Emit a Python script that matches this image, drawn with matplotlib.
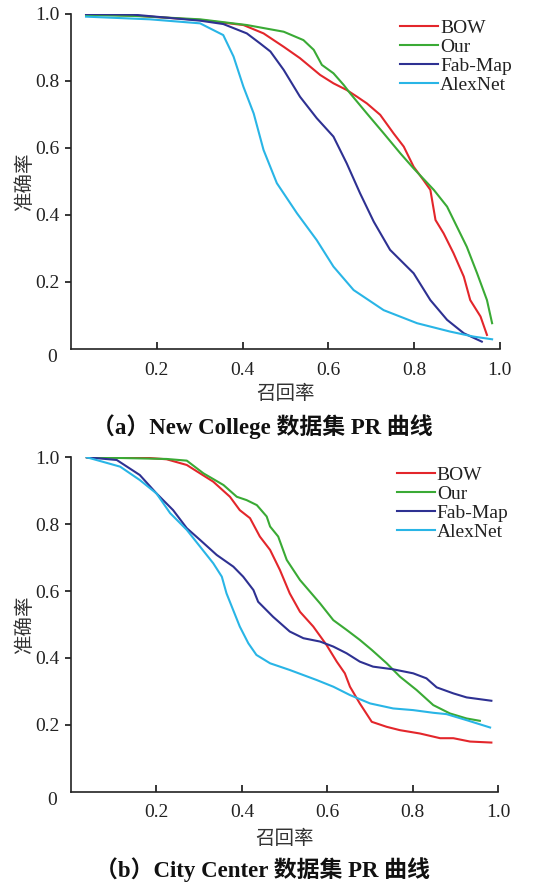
import matplotlib
matplotlib.use("Agg")
import matplotlib.pyplot as plt

# ---- data ----
series_names = ["BOW", "Our", "Fab-Map", "AlexNet"]
series_colors = ["#e3262b", "#3aaa35", "#2e3192", "#29b5e6"]

# (a) New College
nc_bow_x = [0.035, 0.15, 0.301, 0.402, 0.449, 0.496, 0.534, 0.581, 0.612, 0.643, 0.667, 0.69,
            0.721, 0.752, 0.776, 0.799, 0.822, 0.838, 0.846, 0.85, 0.869, 0.892, 0.916, 0.931,
            0.955, 0.97]
nc_bow_y = [1.0, 0.995, 0.982, 0.967, 0.942, 0.902, 0.868, 0.818, 0.793, 0.773, 0.753, 0.733,
            0.699, 0.644, 0.604, 0.544, 0.504, 0.475, 0.415, 0.385, 0.345, 0.286, 0.216, 0.146,
            0.097, 0.042]
nc_our_x = [0.035, 0.15, 0.301, 0.41, 0.496, 0.542, 0.566, 0.585, 0.612, 0.636, 0.651, 0.69,
            0.729, 0.768, 0.799, 0.846, 0.877, 0.9, 0.923, 0.947, 0.97, 0.982]
nc_our_y = [0.997, 0.994, 0.984, 0.967, 0.947, 0.922, 0.893, 0.848, 0.823, 0.788, 0.763, 0.703,
            0.644, 0.584, 0.539, 0.475, 0.425, 0.365, 0.305, 0.226, 0.146, 0.077]
nc_fab_x = [0.035, 0.145, 0.301, 0.355, 0.41, 0.441, 0.465, 0.496, 0.534, 0.573, 0.612, 0.643,
            0.674, 0.706, 0.744, 0.799, 0.838, 0.877, 0.916, 0.958]
nc_fab_y = [1.0, 0.998, 0.98, 0.97, 0.942, 0.912, 0.888, 0.833, 0.753, 0.689, 0.634, 0.554,
            0.465, 0.38, 0.296, 0.226, 0.146, 0.087, 0.047, 0.022]
nc_alex_x = [0.035, 0.184, 0.301, 0.355, 0.379, 0.402, 0.426, 0.449, 0.48, 0.527, 0.573, 0.612,
             0.659, 0.729, 0.807, 0.884, 0.939, 0.982]
nc_alex_y = [0.992, 0.984, 0.972, 0.937, 0.873, 0.783, 0.703, 0.594, 0.495, 0.405, 0.325, 0.246,
             0.176, 0.116, 0.077, 0.052, 0.037, 0.029]

# (b) City Center
cc_bow_x = [0.037, 0.161, 0.224, 0.271, 0.333, 0.372, 0.395, 0.419, 0.442, 0.466, 0.489, 0.512,
            0.536, 0.567, 0.598, 0.622, 0.641, 0.653, 0.676, 0.704, 0.739, 0.77, 0.817, 0.864,
            0.895, 0.934, 0.984]
cc_bow_y = [1.0, 1.0, 0.994, 0.977, 0.927, 0.882, 0.842, 0.818, 0.763, 0.723, 0.663, 0.593,
            0.538, 0.494, 0.439, 0.389, 0.354, 0.314, 0.264, 0.209, 0.194, 0.184, 0.174, 0.16,
            0.16, 0.15, 0.147]
cc_our_x = [0.037, 0.224, 0.271, 0.31, 0.357, 0.388, 0.411, 0.435, 0.458, 0.466, 0.485, 0.505,
            0.536, 0.583, 0.614, 0.645, 0.676, 0.704, 0.739, 0.77, 0.809, 0.848, 0.887, 0.926,
            0.957]
cc_our_y = [1.0, 0.995, 0.99, 0.952, 0.917, 0.882, 0.872, 0.857, 0.823, 0.793, 0.763, 0.693,
            0.633, 0.563, 0.513, 0.484, 0.454, 0.424, 0.384, 0.344, 0.304, 0.259, 0.234, 0.219,
            0.212]
cc_fab_x = [0.037, 0.107, 0.161, 0.2, 0.239, 0.271, 0.302, 0.341, 0.38, 0.403, 0.427, 0.438,
            0.473, 0.512, 0.544, 0.583, 0.614, 0.645, 0.676, 0.707, 0.754, 0.801, 0.832, 0.856,
            0.895, 0.926, 0.984]
cc_fab_y = [1.0, 0.992, 0.947, 0.892, 0.842, 0.788, 0.753, 0.708, 0.673, 0.643, 0.603, 0.568,
            0.523, 0.479, 0.459, 0.449, 0.434, 0.414, 0.389, 0.374, 0.366, 0.354, 0.339, 0.312,
            0.294, 0.282, 0.272]
cc_alex_x = [0.037, 0.115, 0.161, 0.2, 0.232, 0.271, 0.302, 0.333, 0.353, 0.364, 0.395, 0.415,
             0.434, 0.466, 0.512, 0.575, 0.614, 0.653, 0.7, 0.754, 0.801, 0.848, 0.879, 0.926,
             0.981]
cc_alex_y = [1.0, 0.972, 0.932, 0.892, 0.833, 0.783, 0.733, 0.683, 0.643, 0.593, 0.494, 0.444,
             0.409, 0.384, 0.364, 0.334, 0.314, 0.289, 0.264, 0.249, 0.244, 0.236, 0.232, 0.214,
             0.192]

ticks = [0.2, 0.4, 0.6, 0.8, 1.0]
tick_labels = ["0.2", "0.4", "0.6", "0.8", "1.0"]

SERIF = "Liberation Serif"
CJK = "Noto Sans CJK SC"
TXT = "#222222"

fig = plt.figure(figsize=(5.36, 8.84), dpi=100)


def draw_panel(ax, xs, ys, caption, cap_y, legend_anchor, xlabel_y):
    for x, y, name, c in zip(xs, ys, series_names, series_colors):
        ax.plot(x, y, color=c, lw=1.5, label=name)
    ax.set_xlim(0, 1.0)
    ax.set_ylim(0, 1.0)
    for s in ["top", "right"]:
        ax.spines[s].set_visible(False)
    for s in ["left", "bottom"]:
        ax.spines[s].set_linewidth(1.2)
        ax.spines[s].set_color("#222222")
    ax.set_xticks(ticks)
    ax.set_xticklabels(tick_labels, fontfamily=SERIF, fontsize=14, color=TXT)
    ax.set_yticks(ticks)
    ax.set_yticklabels(tick_labels, fontfamily=SERIF, fontsize=14, color=TXT)
    ax.tick_params(axis="x", direction="in", length=5, width=1.1, pad=9)
    ax.tick_params(axis="y", direction="out", length=4, width=1.1, pad=4)
    ax.text(-0.045, -0.025, "0", fontfamily=SERIF, fontsize=14, color=TXT,
            ha="center", va="center", transform=ax.transData, clip_on=False)
    ax.set_ylabel("准确率", fontfamily=CJK, fontsize=14, color="#333333")
    ax.yaxis.set_label_coords(-0.085, 0.5)
    ax.set_xlabel("召回率", fontfamily=CJK, fontsize=14, color="#333333")
    ax.xaxis.set_label_coords(0.5, xlabel_y)
    leg = ax.legend(loc="upper left", bbox_to_anchor=legend_anchor, frameon=False,
                    handlelength=1.95, handletextpad=0.1, labelspacing=0.07,
                    borderpad=0, borderaxespad=0,
                    prop={"family": SERIF, "size": 14})
    for t in leg.get_texts():
        t.set_color(TXT)
    fig.text(0.49, cap_y, caption, ha="center", va="center", fontsize=16.5,
             fontweight="bold", family=[SERIF, CJK], color="#111111")


ax1 = fig.add_axes([0.1325, 0.6052, 0.80, 0.379])
draw_panel(ax1, [nc_bow_x, nc_our_x, nc_fab_x, nc_alex_x],
           [nc_bow_y, nc_our_y, nc_fab_y, nc_alex_y],
           "（a）New College 数据集 PR 曲线", 0.517, (0.768, 0.985), -0.1)

ax2 = fig.add_axes([0.1325, 0.1044, 0.797, 0.3783])
draw_panel(ax2, [cc_bow_x, cc_our_x, cc_fab_x, cc_alex_x],
           [cc_bow_y, cc_our_y, cc_fab_y, cc_alex_y],
           "（b）City Center 数据集 PR 曲线", 0.016, (0.763, 0.974), -0.108)

fig.savefig("out.png", dpi=100)
